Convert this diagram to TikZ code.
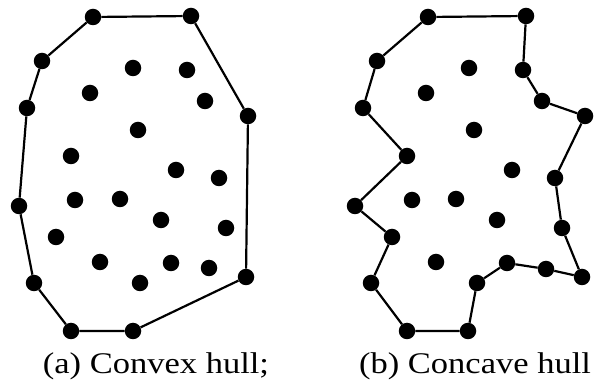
\documentclass[tikz,border=0pt]{standalone}
\usepackage{fontspec}
\setmainfont[FakeStretch=1.15]{Liberation Serif}
\begin{document}
\begin{tikzpicture}[x=1pt,y=-1pt,
  dotpt/.style={circle,fill=black,inner sep=0pt,minimum size=16.5pt},
  hull/.style={line width=2.2pt,black},
  captxt/.style={font=\fontsize{30}{34}\selectfont,inner sep=0pt}]
\useasboundingbox (0,0) rectangle (595,387);
% ---- (a) convex hull ----
\foreach \n/\x/\y in {a1/93/17,a2/191/16,a3/248/116,a4/246/277,a5/133/331,a6/71/331,a7/34/283,a8/19/206,a9/27/108,a10/42/61,
  ai1/133/68,ai2/187/70,ai3/90/93,ai4/205/101,ai5/138/130,ai6/71/156,ai7/176/170,ai8/219/178,ai9/75/200,ai10/120/199,
  ai11/161/220,ai12/226/228,ai13/56/237,ai14/100/262,ai15/171/263,ai16/209/268,ai17/140/283}
  \node[dotpt] (\n) at (\x,\y) {};
\draw[hull] (a1)--(a2)--(a3)--(a4)--(a5)--(a6)--(a7)--(a8)--(a9)--(a10)--(a1);
% ---- (b) concave hull ----
\foreach \n/\x/\y in {b1/428/17,b2/526/16,b3/523/70,b4/542/101,b5/585/116,b6/555/178,b7/562/228,b8/582/277,b9/546/269,b10/507/263,
  b11/477/283,b12/468/331,b13/407/331,b14/371/283,b15/392/237,b16/355/206,b17/407/156,b18/363/108,b19/377/61,
  bi1/469/68,bi2/426/93,bi3/474/130,bi4/512/170,bi5/412/200,bi6/456/199,bi7/497/220,bi8/436/262}
  \node[dotpt] (\n) at (\x,\y) {};
\draw[hull] (b1)--(b2)--(b3)--(b4)--(b5)--(b6)--(b7)--(b8)--(b9)--(b10)--(b11)--(b12)--(b13)--(b14)--(b15)--(b16)--(b17)--(b18)--(b19)--(b1);
\node[captxt] (ca) at (156,366) {(a) Convex hull;};
\node[captxt] (cb) at (475,366) {(b) Concave hull};
\end{tikzpicture}
\end{document}
